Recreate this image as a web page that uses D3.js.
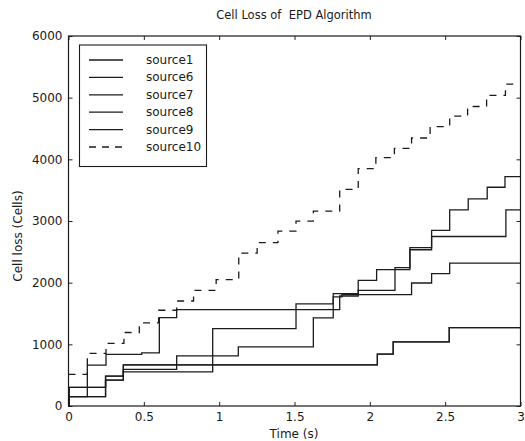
<!DOCTYPE html>
<html>
<head>
<meta charset="utf-8">
<script src="https://cdn.jsdelivr.net/npm/d3@7"></script>
<style>
  html, body { margin: 0; padding: 0; background: #fff; }
  svg text { font-family: "DejaVu Sans", "Liberation Sans", sans-serif; fill: #1a1a1a; }
</style>
</head>
<body>
<svg id="chart" width="525" height="441"></svg>
<script>
// Cumulative cell loss per source, as [time (s), cells] step points
const source1 = [[0,0],[0.004,302],[0.246,485],[0.364,668],[2.05,840],[2.155,1040],[2.527,1272]];
const source6 = [[0,0],[0.004,151],[0.125,663],[0.249,836],[0.486,862],[0.603,1434],[0.718,1564],[1.80,1784],[1.923,1876],[2.167,2243],[2.266,2567],[2.41,2749],[2.903,3181]];
const source7 = [[0,0],[0.004,151],[0.246,420],[0.364,555],[0.957,1256],[1.51,1655],[1.757,1823],[1.923,2038],[2.045,2211],[2.266,2534],[2.41,2847],[2.53,3181],[2.653,3359],[2.779,3547],[2.897,3720]];
const source8 = [[0,0],[0.004,302],[0.246,485],[0.364,593],[0.718,814],[1.127,960],[1.625,1430],[1.757,1768],[1.815,1806],[2.277,1995],[2.41,2146],[2.53,2318]];
const source9 = [[0,0],[0.004,151],[0.246,420],[0.364,668],[2.05,840],[2.155,1040],[2.527,1272]];
const source10 = [[0,513],[0.125,852],[0.249,1014],[0.368,1192],[0.47,1347],[0.598,1553],[0.718,1703],[0.83,1876],[0.98,2050],[1.13,2478],[1.252,2648],[1.39,2835],[1.51,2997],[1.625,3160],[1.80,3512],[1.923,3850],[2.04,4027],[2.163,4178],[2.277,4346],[2.40,4531],[2.53,4700],[2.649,4857],[2.775,5038],[2.90,5219]];

const seriesNames = ["source1", "source6", "source7", "source8", "source9", "source10"];
const seriesData = [source1, source6, source7, source8, source9, source10];
const seriesDashed = [false, false, false, false, false, true];

const timeTicks = [0, 0.5, 1, 1.5, 2, 2.5, 3];
const lossTicks = [0, 1000, 2000, 3000, 4000, 5000, 6000];

const titleText = "Cell Loss of  EPD Algorithm";
const xLabel = "Time (s)";
const yLabel = "Cell loss (Cells)";

const svg = d3.select("#chart");
const plot = { left: 68.5, top: 36, right: 520.5, bottom: 406 };

const x = d3.scaleLinear().domain([0, 3]).range([plot.left, plot.right]);
const y = d3.scaleLinear().domain([0, 6000]).range([plot.bottom, plot.top]);

// Title and axis labels
svg.append("text")
  .attr("x", 294).attr("y", 19)
  .attr("text-anchor", "middle")
  .attr("font-size", 11.5)
  .style("white-space", "pre")
  .text(titleText);

svg.append("text")
  .attr("x", 294).attr("y", 438)
  .attr("text-anchor", "middle")
  .attr("font-size", 12)
  .text(xLabel);

svg.append("text")
  .attr("transform", "translate(22,236) rotate(-90)")
  .attr("text-anchor", "middle")
  .attr("font-size", 12)
  .text(yLabel);

// Axes with inward ticks on all four sides
const fmtX = d => String(d);
const axB = svg.append("g").attr("transform", `translate(0,${plot.bottom})`)
  .call(d3.axisBottom(x).tickValues(timeTicks).tickFormat(fmtX).tickSizeInner(-4).tickSizeOuter(0).tickPadding(6));
const axT = svg.append("g").attr("transform", `translate(0,${plot.top})`)
  .call(d3.axisTop(x).tickValues(timeTicks).tickFormat("").tickSizeInner(-4).tickSizeOuter(0));
const axL = svg.append("g").attr("transform", `translate(${plot.left},0)`)
  .call(d3.axisLeft(y).tickValues(lossTicks).tickFormat(d3.format("d")).tickSizeInner(-4).tickSizeOuter(0).tickPadding(6));
const axR = svg.append("g").attr("transform", `translate(${plot.right},0)`)
  .call(d3.axisRight(y).tickValues(lossTicks).tickFormat("").tickSizeInner(-4).tickSizeOuter(0));

[axB, axT, axL, axR].forEach(g => {
  g.select(".domain").remove();
  g.selectAll(".tick line").attr("stroke", "#222").attr("stroke-width", 1);
  g.selectAll(".tick text").attr("font-size", 12).attr("fill", "#1a1a1a")
    .attr("font-family", "DejaVu Sans, sans-serif");
});

// Step lines
const line = d3.line()
  .x(d => x(d[0]))
  .y(d => y(d[1]))
  .curve(d3.curveStepAfter);

seriesData.forEach((pts, i) => {
  const full = pts.concat([[3, pts[pts.length - 1][1]]]);
  svg.append("path")
    .datum(full)
    .attr("fill", "none")
    .attr("stroke", "#1c1c1c")
    .attr("stroke-width", 1.3)
    .attr("stroke-dasharray", seriesDashed[i] ? "7,7" : null)
    .attr("d", line);
});

// Plot frame
svg.append("rect")
  .attr("x", plot.left).attr("y", plot.top)
  .attr("width", plot.right - plot.left).attr("height", plot.bottom - plot.top)
  .attr("fill", "none").attr("stroke", "#1a1a1a").attr("stroke-width", 1.2);

// Legend
const legend = svg.append("g");
legend.append("rect")
  .attr("x", 79.5).attr("y", 45)
  .attr("width", 127).attr("height", 121.5)
  .attr("fill", "#fff").attr("stroke", "#1a1a1a").attr("stroke-width", 1.1);

seriesNames.forEach((name, i) => {
  const ry = 60 + i * 17.4;
  legend.append("line")
    .attr("x1", 89).attr("x2", 123)
    .attr("y1", ry).attr("y2", ry)
    .attr("stroke", "#1c1c1c").attr("stroke-width", 1.3)
    .attr("stroke-dasharray", seriesDashed[i] ? "7,6" : null);
  legend.append("text")
    .attr("x", 146).attr("y", ry + 4)
    .attr("font-size", 12)
    .text(name);
});
</script>
</body>
</html>
